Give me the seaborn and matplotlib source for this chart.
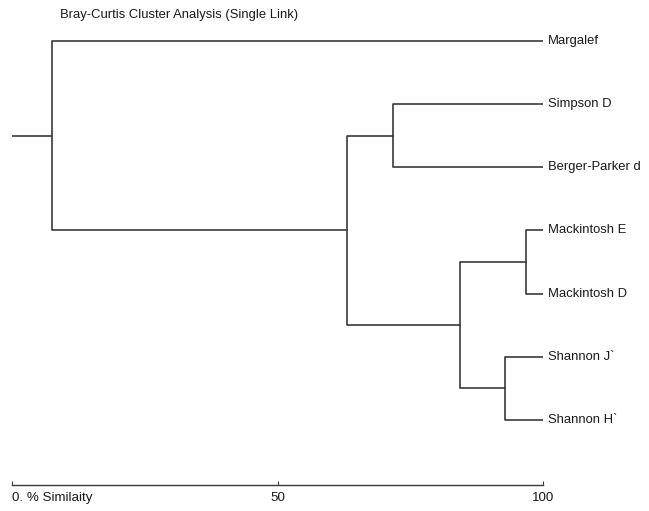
import numpy as np
import pandas as pd
import matplotlib
matplotlib.use("Agg")
import matplotlib.pyplot as plt
import seaborn as sns

# leaves, top to bottom
leaves = ["Margalef", "Simpson D", "Berger-Parker d", "Mackintosh E",
          "Mackintosh D", "Shannon J`", "Shannon H`"]

# single-link merges: (left, right, % similarity)
merges = [
    ("Mackintosh E", "Mackintosh D", 96.8),
    ("Shannon J`", "Shannon H`", 92.8),
    ("Mack", "Shan", 84.4),
    ("Simpson D", "Berger-Parker d", 71.8),
    ("SimpBerg", "MackShan", 63.1),
    ("Margalef", "Rest", 7.5),
]
merge_names = ["Mack", "Shan", "MackShan", "SimpBerg", "Rest", "Root"]

tick_vals = [0, 50, 100]
tick_labels = ["0. % Similaity", "50", "100"]

# node positions (x = similarity, y = row)
pos = {name: (100.0, i) for i, name in enumerate(leaves)}
rows = []
for k, ((a, b, s), name) in enumerate(zip(merges, merge_names)):
    xa, ya = pos[a]
    xb, yb = pos[b]
    for x, y in [(xa, ya), (s, ya), (s, yb), (xb, yb)]:
        rows.append({"x": x, "y": y, "link": k})
    pos[name] = (s, (ya + yb) / 2)
# root stub
rx, ry = pos["Root"]
rows.append({"x": 0.0, "y": ry, "link": len(merges)})
rows.append({"x": rx, "y": ry, "link": len(merges)})
segs = pd.DataFrame(rows)

sns.set_style("white")
plt.rcParams["font.family"] = ["Liberation Sans", "DejaVu Sans"]

W, H = 649, 511
fig = plt.figure(figsize=(W / 100, H / 100), dpi=100)
ax = fig.add_axes([12 / W, 1 - 485 / H, 531 / W, (485 - 30) / H])

line_col = "#3a3a3a"
txt_col = "#1a1a1a"
fs = 9.4
sns.lineplot(data=segs, x="x", y="y", units="link", estimator=None, sort=False,
             color=line_col, linewidth=1.2, ax=ax, legend=False)

for name in leaves:
    ax.text(100.9, pos[name][1], name, ha="left", va="center",
            fontsize=fs, color=txt_col, clip_on=False)

ax.set_xlim(0, 100)
ax.set_ylim(7.03, -0.17)
ax.set_xlabel("")
ax.set_ylabel("")
ax.set_yticks([])
ax.set_xticks(tick_vals)
ax.set_xticklabels(tick_labels, fontsize=9.6, color=txt_col)
for lbl, ha in zip(ax.get_xticklabels(), ["left", "center", "center"]):
    lbl.set_ha(ha)
ax.tick_params(axis="x", direction="in", length=3, width=0.8, color=line_col,
               pad=5, bottom=True)
sns.despine(ax=ax, left=True, top=True, right=True)
ax.spines["bottom"].set_color(line_col)
ax.spines["bottom"].set_linewidth(1.0)

fig.text(60 / W, 1 - 15 / H, "Bray-Curtis Cluster Analysis (Single Link)",
         ha="left", va="center", fontsize=fs, color=txt_col)

fig.savefig("out.png", dpi=100, facecolor="white")
